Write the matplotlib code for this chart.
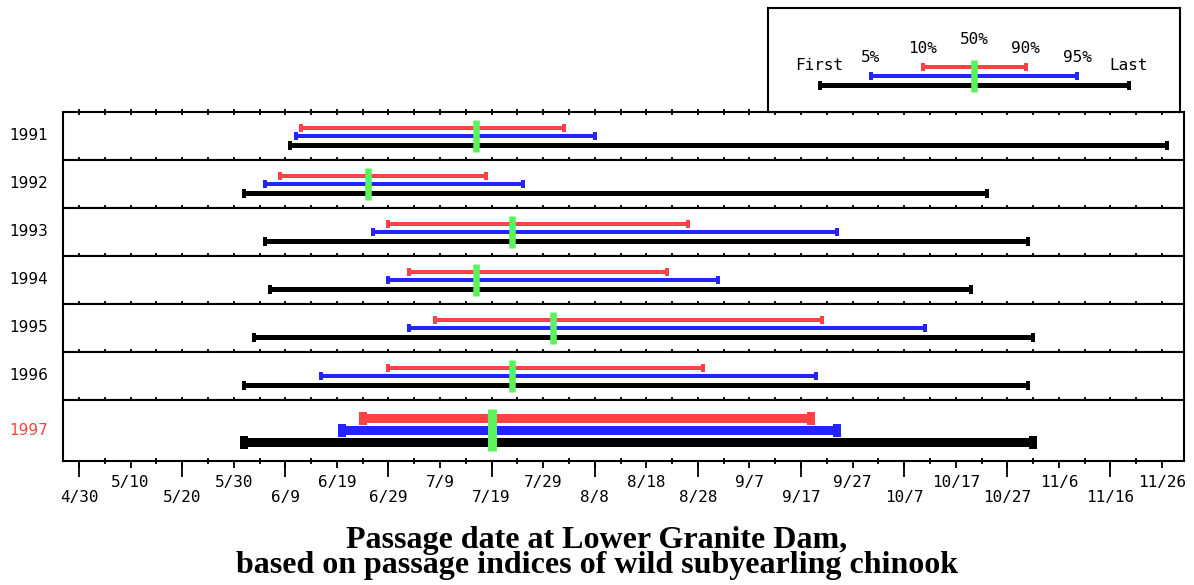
import datetime as dt
import matplotlib
matplotlib.use("Agg")
import matplotlib.pyplot as plt
from matplotlib.ticker import MultipleLocator, FixedLocator, FuncFormatter, NullLocator

# ---------------- data (month/day of passage) ----------------
years = ["1991", "1992", "1993", "1994", "1995", "1996", "1997"]
first = ["6/10", "6/1", "6/5", "6/6", "6/3", "6/1", "6/1"]
p5 = ["6/11", "6/5", "6/26", "6/29", "7/3", "6/16", "6/20"]
p10 = ["6/12", "6/8", "6/29", "7/3", "7/8", "6/29", "6/24"]
p50 = ["7/16", "6/25", "7/23", "7/16", "7/31", "7/23", "7/19"]
p90 = ["8/2", "7/18", "8/26", "8/22", "9/21", "8/29", "9/19"]
p95 = ["8/8", "7/25", "9/24", "9/1", "10/11", "9/20", "9/24"]
last = ["11/27", "10/23", "10/31", "10/20", "11/1", "10/31", "11/1"]
axis_start = "4/30"
axis_end = "11/26"

BASE = dt.date(1997, 4, 30)


def to_day(s):
    m, d = (int(v) for v in s.split("/"))
    return (dt.date(1997, m, d) - BASE).days


def to_label(x, pos=None):
    d = BASE + dt.timedelta(days=int(round(x)))
    return f"{d.month}/{d.day}"


RED = "#ff4242"
BLUE = "#2424ff"
GREEN = "#5cf25c"
BLACK = "#000000"
MONO = "DejaVu Sans Mono"
PT = 0.72  # points per pixel at 100 dpi

W, H = 1194, 585
fig = plt.figure(figsize=(W / 100, H / 100), dpi=100)

x0_px, x1_px = 63, 1184
day0 = to_day(axis_start)
dayN = to_day(axis_end)
px_per_day = (1162 - 79) / (dayN - day0)
xmin = day0 - (79 - x0_px) / px_per_day
xmax = day0 + (x1_px - 79) / px_per_day

panel_tops = [112, 160, 208, 256, 304, 352, 400]
panel_bots = [160, 208, 256, 304, 352, 400, 461]


def rect_marker(ratio):
    return [(-ratio, -1), (ratio, -1), (ratio, 1), (-ratio, 1), (-ratio, -1)]


def bar(ax, a, b, y, color, lw_px, cap_h_px):
    ax.plot([a, b], [y, y], color=color, lw=lw_px * PT, solid_capstyle="butt",
            marker=rect_marker(0.55), markersize=cap_h_px * PT,
            markerfacecolor=color, markeredgewidth=0, zorder=3)


n = len(years)
for i in range(n):
    top, bot = panel_tops[i], panel_bots[i]
    ax = fig.add_axes([x0_px / W, 1 - bot / H, (x1_px - x0_px) / W, (bot - top) / H])
    ax.set_xlim(xmin, xmax)
    ax.set_ylim(1, 0)
    ax.set_yticks([])
    for sp in ax.spines.values():
        sp.set_linewidth(1.5)
    big = (i == n - 1)
    if big:
        ry, by, ky, gy0, gy1 = 0.295, 0.49, 0.69, 0.14, 0.83
        lw_c, lw_k, cap_c, cap_k, gw = 9, 9, 13, 13, 9
    else:
        ry, by, ky, gy0, gy1 = 0.325, 0.505, 0.69, 0.175, 0.84
        lw_c, lw_k, cap_c, cap_k, gw = 4, 5, 8, 9, 6.5
    bar(ax, to_day(first[i]), to_day(last[i]), ky, BLACK, lw_k, cap_k)
    bar(ax, to_day(p5[i]), to_day(p95[i]), by, BLUE, lw_c, cap_c)
    bar(ax, to_day(p10[i]), to_day(p90[i]), ry, RED, lw_c, cap_c)
    m = to_day(p50[i])
    ax.plot([m, m], [gy0, gy1], color=GREEN, lw=gw * PT, solid_capstyle="butt", zorder=4)

    ax.text((29 - x0_px) / (x1_px - x0_px), 0.5, years[i], transform=ax.transAxes,
            ha="center", va="center", fontsize=11, family="DejaVu Sans",
            color=RED if years[i] == "1997" else BLACK)

    ax.xaxis.set_minor_locator(MultipleLocator(5))
    if not big:
        ax.xaxis.set_major_locator(NullLocator())
        ax.tick_params(axis="x", which="minor", top=(i == 0), bottom=True,
                       direction="inout", length=6 * PT, width=1.3, labelbottom=False)
    else:
        ax.xaxis.set_major_locator(FixedLocator(list(range(day0, dayN + 1, 10))))

        def fmt(x, pos):
            k = int(round(x - day0))
            lab = to_label(x)
            return "\n" + lab if k % 20 == 0 else lab

        ax.xaxis.set_major_formatter(FuncFormatter(fmt))
        ax.tick_params(axis="x", which="minor", top=False, bottom=True,
                       direction="inout", length=6 * PT, width=1.3)
        ax.tick_params(axis="x", which="major", top=False, bottom=True,
                       direction="out", length=7 * PT, width=1.3, pad=5,
                       labelsize=11.5)
        for t in ax.get_xticklabels():
            t.set_family(MONO)
            t.set_linespacing(1.0)
        sec = ax.secondary_xaxis("bottom")
        sec.set_xticks(list(range(day0, dayN + 1, 20)))
        sec.tick_params(axis="x", direction="out", length=16 * PT, width=1.3, labelbottom=False)
        sec.spines["bottom"].set_visible(False)

# ---------------- legend box ----------------
lg = fig.add_axes([768 / W, 1 - 112 / H, (1180 - 768) / W, (112 - 8) / H])
lg.set_xlim(0, 1)
lg.set_ylim(0, 1)
lg.set_xticks([])
lg.set_yticks([])
for sp in lg.spines.values():
    sp.set_linewidth(1.5)
pos = [0.125 * k for k in range(1, 8)]
bar(lg, pos[0], pos[6], 0.262, BLACK, 5, 9)
bar(lg, pos[1], pos[5], 0.35, BLUE, 4, 8)
bar(lg, pos[2], pos[4], 0.43, RED, 4, 8)
lg.plot([pos[3], pos[3]], [0.19, 0.50], color=GREEN, lw=6.5 * PT, solid_capstyle="butt", zorder=4)
leg_labels = ["First", "5%", "10%", "50%", "90%", "95%", "Last"]
leg_y = [0.445, 0.52, 0.615, 0.695, 0.615, 0.52, 0.445]
for p, t, y in zip(pos, leg_labels, leg_y):
    lg.text(p, y, t, ha="center", va="center", fontsize=11.5, family=MONO)

# ---------------- title ----------------
fig.text(0.5, 1 - 553 / H,
         "Passage date at Lower Granite Dam,\nbased on passage indices of wild subyearling chinook",
         ha="center", va="center", multialignment="center", linespacing=0.86,
         fontsize=23, fontweight="bold", family="Liberation Serif")

fig.savefig("out.png", dpi=100)
